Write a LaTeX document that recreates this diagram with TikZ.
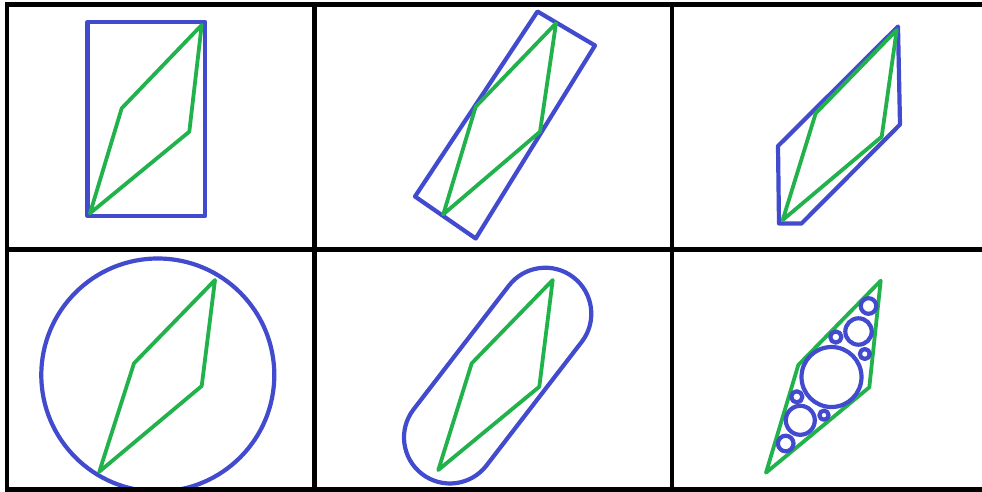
\documentclass[tikz,border=0pt]{standalone}
\definecolor{hullblue}{RGB}{66,74,206}
\definecolor{polygreen}{RGB}{34,178,76}
\tikzset{
  gridline/.style={draw=black, line width=4.4pt},
  hull/.style={draw=hullblue, line width=4.2pt, line join=round},
  poly/.style={draw=polygreen, line width=3.8pt, line join=round, line cap=round},
}
\begin{document}
\begin{tikzpicture}[x=1pt,y=-1pt]
\useasboundingbox (0,0) rectangle (982,492);
\fill[white] (0,0) rectangle (982,492);

% ---- cell 1: axis-aligned bounding box
\draw[hull] (87.5,22) rectangle (205,216);
\draw[poly] (201.7,25) -- (121.7,108.3) -- (90,213.3) -- (189.3,131.7) -- cycle;

% ---- cell 2: oriented bounding box
\draw[hull] (537.5,11.5) -- (595,45.5) -- (475.7,238.5) -- (415,196.5) -- cycle;
\draw[poly] (556,23.3) -- (475.7,106.7) -- (443.3,214.3) -- (540,131.7) -- cycle;

% ---- cell 3: discrete oriented polytope
\draw[hull] (898,26.5) -- (900,124.5) -- (801.5,223.5) -- (779,223.5) -- (778,146) -- cycle;
\draw[poly] (896.7,30) -- (815.7,113.3) -- (782.7,220) -- (881.7,136.7) -- cycle;

% ---- cell 4: bounding sphere
\draw[hull] (157.8,375) circle[radius=116.5];
\draw[poly] (215,280) -- (134,363.3) -- (99.3,471.7) -- (201.7,386) -- cycle;

% ---- cell 5: capsule
\begin{scope}[shift={(497.65,375.6)}, rotate=52.4, y=1pt]
  \draw[hull] (-78.1,-46) -- (78.1,-46) arc[start angle=-90, end angle=90, radius=46]
    -- (-78.1,46) arc[start angle=90, end angle=270, radius=46] -- cycle;
\end{scope}
\draw[poly] (552.7,280) -- (471.7,363.3) -- (438.3,470) -- (539.3,386.7) -- cycle;

% ---- cell 6: sphere packing
\draw[poly] (880.7,280.7) -- (798.3,365) -- (766,472.7) -- (869.3,387.3) -- cycle;
\draw[hull] (831.5,377) circle[radius=30];
\draw[hull] (858.5,331.5) circle[radius=13.2];
\draw[hull] (868.5,306) circle[radius=7.8];
\draw[hull] (835.8,337) circle[radius=5.6];
\draw[hull] (864.8,354) circle[radius=5];
\draw[hull] (800.3,420.3) circle[radius=14.5];
\draw[hull] (796.8,396.8) circle[radius=5.6];
\draw[hull] (824,415.2) circle[radius=4.6];
\draw[hull] (785.7,443.5) circle[radius=7.8];

% ---- grid
\draw[gridline] (5,4.5) -- (982,4.5);
\draw[gridline] (5,249.5) -- (982,249.5);
\draw[gridline] (5,489.5) -- (982,489.5);
\fill[black] (5,487.5) rectangle (982,492);
\draw[gridline] (7,2.5) -- (7,492);
\draw[gridline] (314.5,2.5) -- (314.5,492);
\draw[gridline] (672,2.5) -- (672,492);
\end{tikzpicture}
\end{document}
